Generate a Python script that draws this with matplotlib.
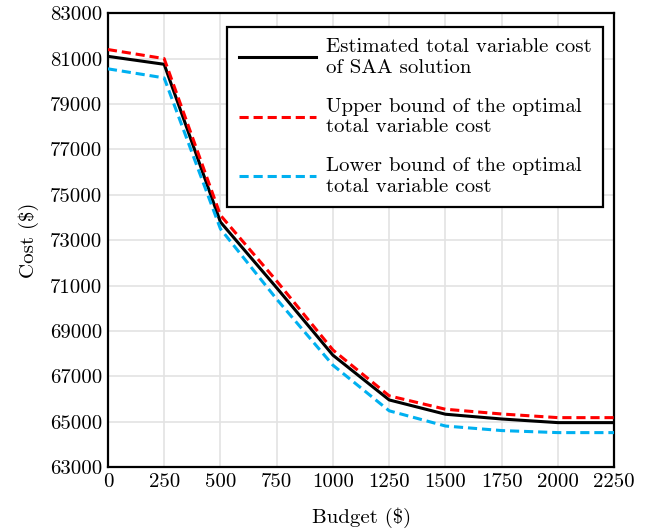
import matplotlib
matplotlib.use("Agg")
import matplotlib.pyplot as plt

budget = [0, 250, 500, 750, 1000, 1250, 1500, 1750, 2000, 2250]
estimated = [81100, 80750, 73800, 70900, 67930, 65960, 65330, 65120, 64960, 64960]
upper = [81400, 81000, 74100, 71200, 68160, 66140, 65550, 65340, 65180, 65180]
lower = [80550, 80150, 73500, 70400, 67490, 65480, 64810, 64610, 64520, 64520]
yticks = [63000, 65000, 67000, 69000, 71000, 73000, 75000, 77000, 79000, 81000, 83000]
xticks = [0, 250, 500, 750, 1000, 1250, 1500, 1750, 2000, 2250]

plt.rcParams['font.family'] = ['cmr10', 'DejaVu Serif']
plt.rcParams['axes.formatter.use_mathtext'] = True
plt.rcParams['mathtext.fontset'] = 'cm'

fig = plt.figure(figsize=(6.5, 5.29), dpi=100)
ax = fig.add_axes([0.166, 0.117, 0.779, 0.858])

ax.plot(budget, estimated, color='black', lw=2.2, label='Estimated total variable cost\nof SAA solution', zorder=3)
ax.plot(budget, upper, color='#ff0000', lw=2.2, ls=(0, (3, 1.6)), label='Upper bound of the optimal\ntotal variable cost', zorder=3)
ax.plot(budget, lower, color='#00b0f0', lw=2.2, ls=(0, (3, 1.6)), label='Lower bound of the optimal\ntotal variable cost', zorder=3)

ax.set_xlim(0, 2250)
ax.set_ylim(63000, 83000)
ax.set_xticks(xticks)
ax.set_xticklabels([str(v) for v in xticks])
ax.set_yticks(yticks)
ax.set_yticklabels([str(v) for v in yticks])
ax.grid(True, color='#e3e3e3', lw=1.2, zorder=0)
ax.set_axisbelow(True)
ax.tick_params(length=0, labelsize=15, pad=4)
for s in ax.spines.values():
    s.set_linewidth(1.6)
    s.set_color('black')

ax.set_xlabel('Budget (\\$)', fontsize=15, labelpad=12)
ax.set_ylabel('Cost (\\$)', fontsize=15, labelpad=8)

leg = ax.legend(loc='upper right', bbox_to_anchor=(0.978, 0.97), fontsize=15, frameon=True,
                fancybox=False, framealpha=1, edgecolor='black', handlelength=3.7,
                labelspacing=1.0, borderpad=0.55, handletextpad=0.5, borderaxespad=0.0)
leg.get_frame().set_linewidth(1.6)

fig.savefig('out.png', dpi=100)
